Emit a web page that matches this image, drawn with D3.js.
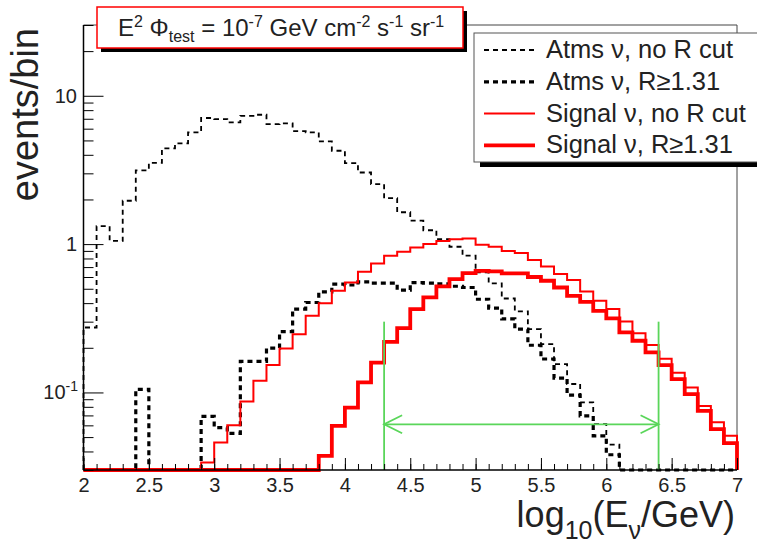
<!DOCTYPE html>
<meta charset="utf-8">
<script src="https://d3js.org/d3.v7.min.js"></script>
<style>
  body { margin: 0; background: #fff; }
  text { font-family: "Liberation Sans", Arial, sans-serif; fill: #222; }
</style>
<div id="chart"></div>
<script>
// histogram bins in log10(E/GeV): 2.0 .. 7.0, width 0.1 (50 bins)
var binStart = 2.0, binWidth = 0.1;

// events per bin, 0 = empty bin
var atmsNoCut = [0.274, 1.32, 1.05, 1.96, 3.14, 3.53, 4.42, 4.77, 5.66, 7.08,
                 6.97, 6.62, 7.33, 7.45, 6.44, 6.52, 5.78, 5.66, 4.93, 4.26,
                 3.52, 3.04, 2.54, 2.04, 1.64, 1.44, 1.24, 1.08, 0.96, 0.836,
                 0.644, 0.543, 0.43, 0.352, 0.267, 0.212, 0.155, 0.114, 0.0857, 0.0611,
                 0.0445, 0, 0, 0, 0, 0, 0, 0, 0, 0];
var atmsCut   = [0, 0, 0, 0, 0.105, 0, 0, 0, 0, 0.069,
                 0.058, 0.053, 0.162, 0.162, 0.199, 0.257, 0.365, 0.404, 0.477, 0.537,
                 0.53, 0.557, 0.545, 0.545, 0.49, 0.55, 0.545, 0.54, 0.52, 0.51,
                 0.425, 0.37, 0.313, 0.267, 0.208, 0.168, 0.125, 0.096, 0.0695, 0.051,
                 0.038, 0, 0, 0, 0, 0, 0, 0, 0, 0];
var sigNoCut  = [0, 0, 0, 0, 0, 0, 0, 0, 0, 0.0337,
                 0.046, 0.060, 0.087, 0.12, 0.153, 0.198, 0.247, 0.329, 0.40, 0.484,
                 0.552, 0.65, 0.741, 0.834, 0.887, 0.95, 1.0, 1.05, 1.08, 1.09,
                 0.99, 0.96, 0.90, 0.87, 0.78, 0.707, 0.628, 0.573, 0.48, 0.415,
                 0.365, 0.301, 0.251, 0.209, 0.169, 0.136, 0.108, 0.081, 0.063, 0.051];
var sigCut    = [0, 0, 0, 0, 0, 0, 0, 0, 0, 0,
                 0, 0, 0, 0, 0, 0, 0, 0, 0.0374, 0.0596,
                 0.079, 0.117, 0.159, 0.219, 0.271, 0.365, 0.437, 0.519, 0.581, 0.638,
                 0.66, 0.655, 0.635, 0.635, 0.60, 0.566, 0.51, 0.448, 0.408, 0.355,
                 0.316, 0.254, 0.223, 0.186, 0.153, 0.123, 0.0975, 0.075, 0.0566, 0.0455];

var legendLabels = ["Atms \u03bd, no R cut", "Atms \u03bd, R\u22651.31",
                    "Signal \u03bd, no R cut", "Signal \u03bd, R\u22651.31"];

var xTicks = [2, 2.5, 3, 3.5, 4, 4.5, 5, 5.5, 6, 6.5, 7];
var yMajor = [0.1, 1, 10];

// signal window marker
var windowEdges = [4.3, 6.4];
var windowTop = 0.3;
var arrowLevel = 0.061;

var W = 757, H = 549;
var svg = d3.select("#chart").append("svg")
    .attr("width", W).attr("height", H);

var x = d3.scaleLinear().domain([2, 7]).range([83.5, 737]);
var y = d3.scaleLog().domain([0.03, 30]).range([470, 25]);

// frame top/right
svg.append("path")
  .attr("d", "M" + x(2) + "," + y(30) + "H" + x(7) + "V" + y(0.03))
  .attr("fill", "none").attr("stroke", "#444").attr("stroke-width", 1);

// histogram outlines
function histPath(vals) {
  var pts = [[x(binStart), y(0.03)]];
  vals.forEach(function(v, i) {
    var vy = y(Math.max(v, 0.03));
    pts.push([x(binStart + i * binWidth), vy]);
    pts.push([x(binStart + (i + 1) * binWidth), vy]);
  });
  pts.push([x(7), y(0.03)]);
  return d3.line()(pts);
}

var series = [
  {vals: atmsNoCut, color: "#000", width: 1.8, dash: "5,4"},
  {vals: atmsCut,   color: "#000", width: 3.2, dash: "5,4"},
  {vals: sigNoCut,  color: "#ff0000", width: 2,   dash: null},
  {vals: sigCut,    color: "#ff0000", width: 3.8, dash: null}
];

series.forEach(function(s) {
  svg.append("path")
    .attr("d", histPath(s.vals))
    .attr("fill", "none")
    .attr("stroke", s.color)
    .attr("stroke-width", s.width)
    .attr("stroke-dasharray", s.dash);
});

// green window lines + double arrow
var green = "#5ad65a";
windowEdges.forEach(function(e) {
  svg.append("line")
    .attr("x1", x(e)).attr("x2", x(e))
    .attr("y1", y(0.03)).attr("y2", y(windowTop))
    .attr("stroke", green).attr("stroke-width", 1.8);
});
var ay = y(arrowLevel), ax0 = x(windowEdges[0]), ax1 = x(windowEdges[1]);
svg.append("line")
  .attr("x1", ax0).attr("x2", ax1).attr("y1", ay).attr("y2", ay)
  .attr("stroke", green).attr("stroke-width", 1.8);
svg.append("path")
  .attr("d", "M" + (ax0 + 18) + "," + (ay - 9) + "L" + ax0 + "," + ay + "L" + (ax0 + 18) + "," + (ay + 9) +
             "M" + (ax1 - 18) + "," + (ay - 9) + "L" + ax1 + "," + ay + "L" + (ax1 - 18) + "," + (ay + 9))
  .attr("fill", "none").attr("stroke", green).attr("stroke-width", 1.8);

// x axis (ticks pointing up)
var xMinor = d3.range(20, 71).map(function(d) { return d / 10; });
svg.append("g")
  .attr("transform", "translate(0," + y(0.03) + ")")
  .call(d3.axisBottom(x).tickValues(xMinor).tickSize(-6).tickFormat(""))
  .call(function(g) { g.select(".domain").remove(); });
var gx = svg.append("g")
  .attr("transform", "translate(0," + y(0.03) + ")")
  .call(d3.axisBottom(x).tickValues(xTicks).tickSize(-12).tickPadding(8)
        .tickFormat(function(d) { return d3.format("")(d); }));
gx.select(".domain").attr("d", "M" + x(2) + ",0H" + x(7)).attr("stroke-width", 1.5);
gx.selectAll("text").style("font-size", "20px").attr("fill", "#333");

// y axis (ticks pointing right)
var yMinor = [];
[0.01, 0.1, 1, 10].forEach(function(dec) {
  for (var k = 2; k <= 9; k++) {
    var v = dec * k;
    if (v >= 0.03 && v <= 30) yMinor.push(v);
  }
});
svg.append("g")
  .attr("transform", "translate(" + x(2) + ",0)")
  .call(d3.axisLeft(y).tickValues(yMinor).tickSize(-10).tickFormat(""))
  .call(function(g) { g.select(".domain").remove(); });
var gy = svg.append("g")
  .attr("transform", "translate(" + x(2) + ",0)")
  .call(d3.axisLeft(y).tickValues(yMajor).tickSize(-20).tickFormat(""));
gy.select(".domain").attr("d", "M0," + y(0.03) + "V" + y(30)).attr("stroke-width", 1.5);

// y tick labels
svg.append("text").attr("x", 77).attr("y", y(10) + 7)
  .attr("text-anchor", "end").style("font-size", "20px").attr("fill", "#333").text("10");
svg.append("text").attr("x", 77).attr("y", y(1) + 7)
  .attr("text-anchor", "end").style("font-size", "20px").attr("fill", "#333").text("1");
var t01 = svg.append("text").attr("x", 78).attr("y", y(0.1) + 7)
  .attr("text-anchor", "end").style("font-size", "20px").attr("fill", "#333");
t01.append("tspan").text("10");
t01.append("tspan").attr("dy", -8).style("font-size", "14px").text("-1");

// axis titles
svg.append("text")
  .attr("transform", "translate(38,28) rotate(-90)")
  .attr("text-anchor", "end")
  .style("font-size", "38px")
  .text("events/bin");

var xt = svg.append("text")
  .attr("x", 735).attr("y", 527)
  .attr("text-anchor", "end")
  .style("font-size", "36px");
xt.append("tspan").text("log");
xt.append("tspan").attr("dy", 12).style("font-size", "25px").text("10");
xt.append("tspan").attr("dy", -12).text("(E");
xt.append("tspan").attr("dy", 12).style("font-size", "25px").text("\u03bd");
xt.append("tspan").attr("dy", -12).text("/GeV)");

// title box
svg.append("rect").attr("x", 101).attr("y", 11).attr("width", 366).attr("height", 41).attr("fill", "#000");
svg.append("rect").attr("x", 97).attr("y", 7).attr("width", 366).attr("height", 41)
  .attr("fill", "#fff").attr("stroke", "#ff0000").attr("stroke-width", 1.5);
var tt = svg.append("text").attr("x", 118).attr("y", 36).style("font-size", "24px");
tt.append("tspan").text("E");
tt.append("tspan").attr("dy", -9).style("font-size", "16px").text("2");
tt.append("tspan").attr("dy", 9).text(" \u03a6");
tt.append("tspan").attr("dy", 6).style("font-size", "16px").text("test");
tt.append("tspan").attr("dy", -6).text(" = 10");
tt.append("tspan").attr("dy", -9).style("font-size", "16px").text("-7");
tt.append("tspan").attr("dy", 9).text(" GeV cm");
tt.append("tspan").attr("dy", -9).style("font-size", "16px").text("-2");
tt.append("tspan").attr("dy", 9).text(" s");
tt.append("tspan").attr("dy", -9).style("font-size", "16px").text("-1");
tt.append("tspan").attr("dy", 9).text(" sr");
tt.append("tspan").attr("dy", -9).style("font-size", "16px").text("-1");

// legend
svg.append("rect").attr("x", 480).attr("y", 38).attr("width", 290).attr("height", 129).attr("fill", "#000");
svg.append("rect").attr("x", 474).attr("y", 33).attr("width", 290).attr("height", 129)
  .attr("fill", "#fff").attr("stroke", "#555").attr("stroke-width", 1);
var lg = svg.append("g").selectAll("g").data(series).join("g")
  .attr("transform", function(d, i) { return "translate(0," + (50 + i * 31.8) + ")"; });
lg.append("line")
  .attr("x1", 484).attr("x2", 535)
  .attr("stroke", function(d) { return d.color; })
  .attr("stroke-width", function(d) { return d.width; })
  .attr("stroke-dasharray", function(d) { return d.dash; });
lg.append("text")
  .attr("x", 546).attr("y", 8)
  .style("font-size", "25.5px")
  .text(function(d, i) { return legendLabels[i]; });
</script>
